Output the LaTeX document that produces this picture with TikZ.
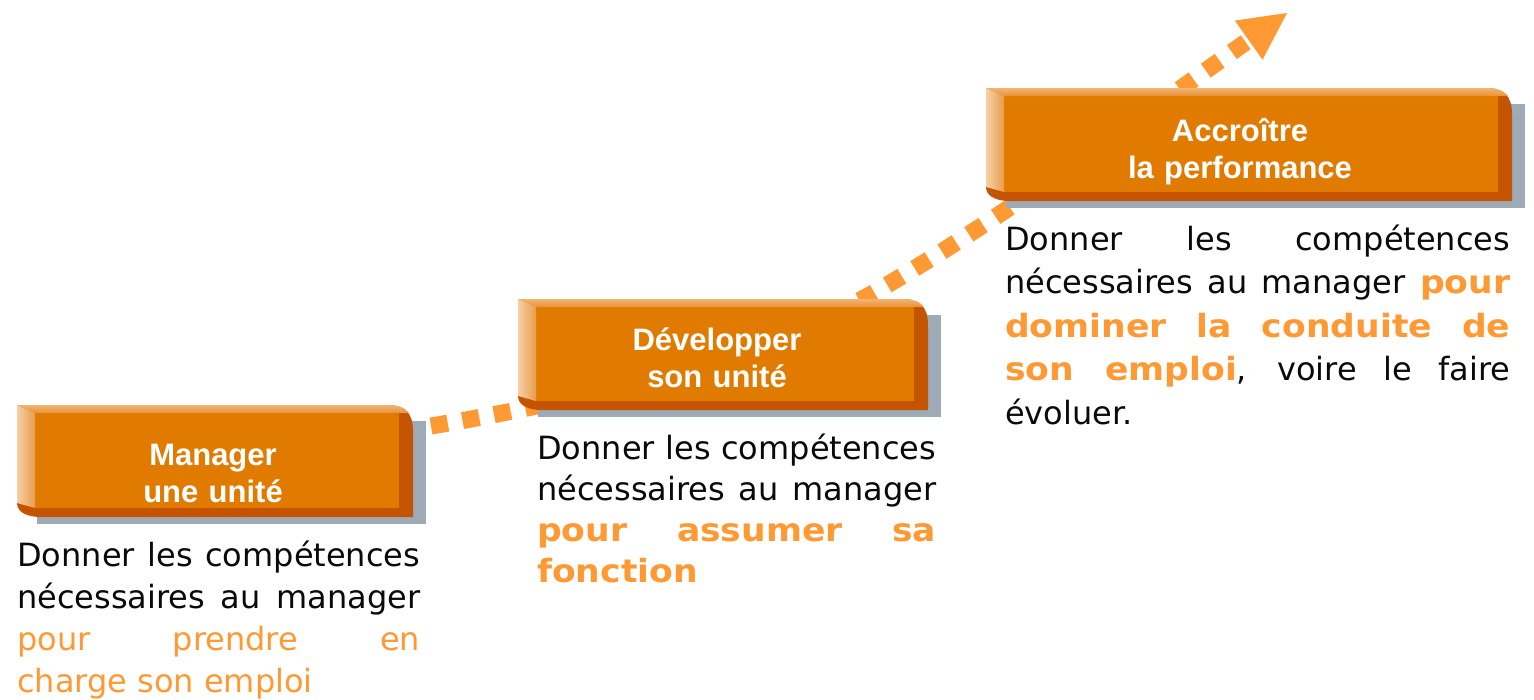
\documentclass[tikz,border=0pt]{standalone}
\usepackage{fontspec}
\setmainfont{DejaVu Sans}[BoldFeatures={FakeStretch=1.08}]
\newfontfamily\titlefont{Liberation Sans}
\usetikzlibrary{arrows.meta}
\hyphenpenalty=10000
\exhyphenpenalty=10000

\definecolor{boxface}{RGB}{224,123,0}
\definecolor{boxdark}{RGB}{196,84,0}
\definecolor{boxtoplight}{RGB}{242,180,112}
\definecolor{boxtopdeep}{RGB}{232,146,58}
\definecolor{boxleftlight}{RGB}{246,208,164}
\definecolor{boxleftdeep}{RGB}{233,156,78}
\definecolor{boxshadow}{RGB}{158,170,182}
\definecolor{accent}{RGB}{255,153,51}
\definecolor{bodytext}{RGB}{10,10,10}

% bevelled orange step box: #1,#2 = top-left corner, #3,#4 = bottom-right corner
\newcommand{\bevelbox}[4]{%
  \fill[boxshadow] ({#1+20},{#2+16}) rectangle ({#3+13},{#4+7});
  \fill[boxdark] (#1,#2) -- ({#3-26},#2)
    .. controls ({#3-8},#2) and (#3,{#2+8}) .. (#3,{#2+26})
    -- (#3,#4) -- ({#1+24},#4)
    .. controls ({#1+8},#4) and (#1,{#4-6}) .. (#1,{#4-14}) -- cycle;
  \fill[boxface] ({#1+18},{#2+8}) rectangle ({#3-14},{#4-9});
  \shade[top color=boxtoplight, bottom color=boxtopdeep]
    (#1,#2) -- ({#3-26},#2) .. controls ({#3-14},#2) and ({#3-8},{#2+3}) .. ({#3-4},{#2+8})
    -- ({#1+18},{#2+8}) -- cycle;
  \shade[left color=boxleftlight, right color=boxleftdeep]
    (#1,#2) -- ({#1+18},{#2+8}) -- ({#1+18},{#4-9}) -- (#1,{#4-14}) -- cycle;
}

\tikzset{
  steptitle/.style={text=white, inner sep=0pt, anchor=base, text width=360pt,
    align=center, font=\titlefont\bfseries\fontsize{31}{37}\selectfont},
  stepdesc/.style={text=bodytext, inner sep=0pt, anchor=base west, align=justify,
    font=\fontsize{32}{42}\selectfont},
  progress/.style={draw=accent, line width=17pt, dash pattern=on 17pt off 15pt,
    -{Triangle[length=47pt,width=48pt,line width=0pt]}},
}

\newcommand{\hl}[1]{\textcolor{accent}{#1}}
\newcommand{\hlb}[1]{\textcolor{accent}{\bfseries #1}}

\begin{document}
\begin{tikzpicture}[x=1pt,y=-1pt]
  \useasboundingbox (0,0) rectangle (1534,699);

  % rising dotted path behind the three steps
  \coordinate (pathstart) at (431,426);
  \coordinate (pathbend) at (875,292);
  \coordinate (pathend) at (1287,13);
  \draw[progress] (pathstart) .. controls (600,398) and (775,350) .. (pathbend)
    .. controls (1000,220) and (1150,110) .. (pathend);

  % the three steps
  \bevelbox{17}{405}{413}{517}
  \bevelbox{518}{299}{928}{410}
  \bevelbox{986}{88}{1512}{201}

  \node[steptitle] (manager) at (213,465) {Manager\\une unité};
  \node[steptitle] (develop) at (717,350) {Développer\\son unité};
  \node[steptitle] (perform) at (1240,141) {Accroître\\la performance};

  % descriptions
  \node[stepdesc, text width=403pt] (descA) at (17,566)
    {Donner les compétences\linebreak nécessaires au manager\linebreak
     \hl{pour prendre en\linebreak charge son emploi}};
  \node[stepdesc, text width=399pt, font=\fontsize{32}{41}\selectfont] (descB) at (537,459)
    {Donner les compétences\linebreak nécessaires au manager\linebreak
     \hlb{pour assumer sa\linebreak fonction}};
  \node[stepdesc, text width=505pt, font=\fontsize{32}{43.5}\selectfont] (descC) at (1005,250)
    {Donner les compétences\linebreak nécessaires au manager \hlb{pour\linebreak
     dominer la conduite de\linebreak son emploi}, voire le faire\linebreak évoluer.};
\end{tikzpicture}
\end{document}
